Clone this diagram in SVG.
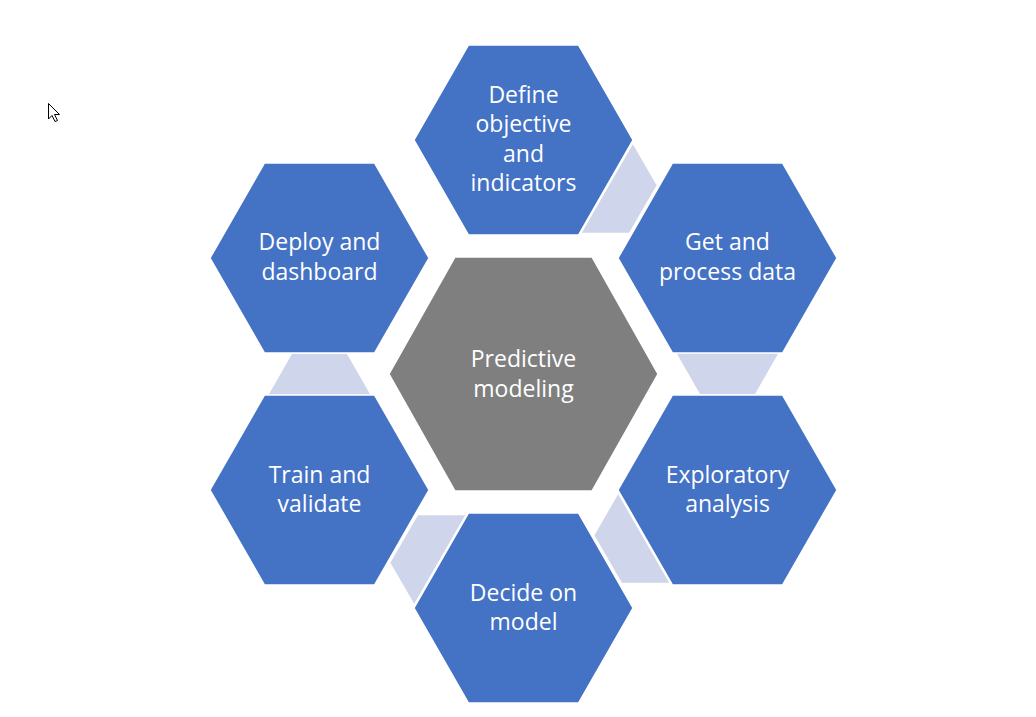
<svg xmlns="http://www.w3.org/2000/svg" xmlns:xlink="http://www.w3.org/1999/xlink" width="1036" height="717" viewBox="0 0 1036 717">
  <style>
    .hex { fill: #4472C4; stroke: #FFFFFF; stroke-width: 1.5; }
    .hub { fill: #7F7F7F; stroke: #FFFFFF; stroke-width: 1.5; }
    .conn { fill: #CFD5EA; }
    .lbl { fill: #FFFFFF; font-family: "Open Sans", "Noto Sans", "Liberation Sans", sans-serif; font-size: 23px; text-anchor: middle; }
  </style>
  <defs>
    <polygon id="hexShape" points="-109.5,0 -55,-95 55,-95 109.5,0 55,95 -55,95"/>
    <polygon id="hubShape" points="-134.5,0 -68.5,-117 68.5,-117 134.5,0 68.5,117 -68.5,117"/>
    <polygon id="connShape" points="-21,-51 20,-27.5 20,27.5 -21,51"/>
  </defs>
  <rect width="1036" height="717" fill="#FFFFFF"/>

  <g id="connectors">
    <use xlink:href="#connShape" href="#connShape" class="conn" transform="translate(625.5,199) rotate(30)"/>
    <use xlink:href="#connShape" href="#connShape" class="conn" transform="translate(727.5,374) rotate(90)"/>
    <use xlink:href="#connShape" href="#connShape" class="conn" transform="translate(625.5,549) rotate(150)"/>
    <use xlink:href="#connShape" href="#connShape" class="conn" transform="translate(421.5,549) rotate(210)"/>
    <use xlink:href="#connShape" href="#connShape" class="conn" transform="translate(319.5,374) rotate(270)"/>
  </g>

  <g id="node-center">
    <use xlink:href="#hubShape" href="#hubShape" class="hub" transform="translate(523.5,374)"/>
    <text class="lbl" x="523.5" y="367">Predictive</text>
    <text class="lbl" x="523.5" y="396.5">modeling</text>
  </g>

  <g id="node-define">
    <use xlink:href="#hexShape" href="#hexShape" class="hex" transform="translate(523.5,140)"/>
    <text class="lbl" x="523.5" y="102.5">Define</text>
    <text class="lbl" x="523.5" y="132">objective</text>
    <text class="lbl" x="523.5" y="161.5">and</text>
    <text class="lbl" x="523.5" y="191">indicators</text>
  </g>

  <g id="node-get">
    <use xlink:href="#hexShape" href="#hexShape" class="hex" transform="translate(727.5,258)"/>
    <text class="lbl" x="727.5" y="250">Get and</text>
    <text class="lbl" x="727.5" y="279.5">process data</text>
  </g>

  <g id="node-exploratory">
    <use xlink:href="#hexShape" href="#hexShape" class="hex" transform="translate(727.5,490)"/>
    <text class="lbl" x="727.5" y="483">Exploratory</text>
    <text class="lbl" x="727.5" y="512">analysis</text>
  </g>

  <g id="node-decide">
    <use xlink:href="#hexShape" href="#hexShape" class="hex" transform="translate(523.5,608)"/>
    <text class="lbl" x="523.5" y="600.5">Decide on</text>
    <text class="lbl" x="523.5" y="630">model</text>
  </g>

  <g id="node-train">
    <use xlink:href="#hexShape" href="#hexShape" class="hex" transform="translate(319.5,490)"/>
    <text class="lbl" x="319.5" y="483">Train and</text>
    <text class="lbl" x="319.5" y="512">validate</text>
  </g>

  <g id="node-deploy">
    <use xlink:href="#hexShape" href="#hexShape" class="hex" transform="translate(319.5,258)"/>
    <text class="lbl" x="319.5" y="250">Deploy and</text>
    <text class="lbl" x="319.5" y="279.5">dashboard</text>
  </g>

  <g id="cursor">
    <polygon points="48.5,103.5 48.5,119 52,115.5 55,121.5 57.5,120.5 54.5,114.5 59.5,114.5" fill="#FFFFFF" stroke="#000000" stroke-width="1" stroke-linejoin="miter"/>
  </g>
</svg>
